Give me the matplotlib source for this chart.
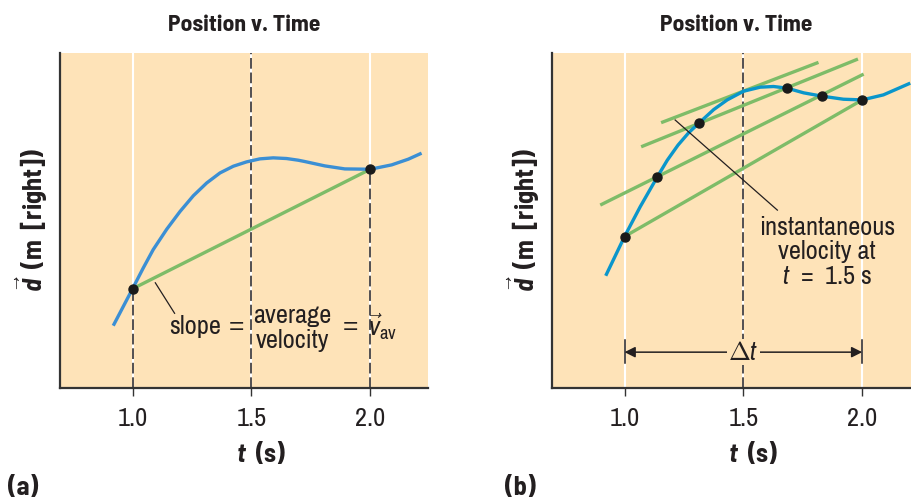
import numpy as np
import matplotlib
matplotlib.use('Agg')
import matplotlib.pyplot as plt

# ---------------------- fonts

plt.rcParams['font.family'] = ['Archivo Narrow', 'Liberation Sans', 'DejaVu Sans']
plt.rcParams['mathtext.fontset'] = 'custom'
plt.rcParams['mathtext.rm'] = 'Archivo Narrow'
plt.rcParams['mathtext.it'] = 'Archivo Narrow:italic'
plt.rcParams['mathtext.bf'] = 'Barlow Semi Condensed:italic:bold'
boldFamily = ['Barlow Semi Condensed', 'Liberation Sans', 'DejaVu Sans']
eqFamily = ['Liberation Sans', 'DejaVu Sans']

# ---------------------- data

ticks = [1.0, 1.5, 2.0]
tickLabels = ['1.0', '1.5', '2.0']

# panel (a): position curve
tA = [0.919, 1.0, 1.045, 1.087, 1.144, 1.200, 1.256, 1.312, 1.368, 1.424,
      1.480, 1.536, 1.592, 1.648, 1.697, 1.725, 1.809, 1.893, 2.0, 2.090,
      2.160, 2.216]
dA = [1.86, 2.96, 3.58, 4.13, 4.74, 5.27, 5.74, 6.12, 6.42, 6.62,
      6.75, 6.84, 6.87, 6.85, 6.80, 6.76, 6.63, 6.54, 6.53, 6.66,
      6.83, 7.01]
dotsTA = [1.0, 2.0]
dotsDA = [2.96, 6.53]

# panel (b): position curve
tB = [0.921, 1.0, 1.066, 1.137, 1.180, 1.225, 1.270, 1.315, 1.375, 1.432,
      1.501, 1.571, 1.627, 1.684, 1.754, 1.832, 1.921, 2.0, 2.089, 2.202]
dB = [3.35, 4.52, 5.41, 6.29, 6.80, 7.25, 7.62, 7.92, 8.31, 8.60,
      8.86, 8.98, 9.00, 8.95, 8.81, 8.71, 8.62, 8.60, 8.75, 9.10]
dotsTB = [1.0, 1.137, 1.315, 1.684, 1.832, 2.0]
dotsDB = [4.52, 6.29, 7.92, 8.95, 8.71, 8.60]

# panel (b): secant / tangent segments
greenT0 = [1.154, 1.070, 0.898, 1.0]
greenT1 = [1.816, 1.982, 2.006, 2.0]
greenD0 = [7.92, 7.20, 5.46, 4.52]
greenD1 = [9.72, 9.82, 9.37, 8.60]

# ---------------------- style

bgColor = '#FEE3B8'
blueA = '#3B8FD4'
blueB = '#0A96CB'
green = '#7EBC68'
ink = '#231F20'
fs = 19

fig = plt.figure(figsize=(9.11, 5.0), dpi=100)
axA = fig.add_axes([60/911, 112/500, 368/911, 335/500])
axB = fig.add_axes([552/911, 112/500, 368/911, 335/500])


def setupAxes(ax):
    ax.set_facecolor(bgColor)
    ax.set_xlim(0.695, 2.243)
    ax.set_ylim(0, 10)
    for s in ['top', 'right']:
        ax.spines[s].set_visible(False)
    for s in ['left', 'bottom']:
        ax.spines[s].set_color('#333333')
        ax.spines[s].set_linewidth(1.6)
    ax.set_yticks([])
    ax.set_xticks(ticks)
    ax.set_xticklabels(tickLabels, fontsize=fs, color=ink)
    ax.tick_params(axis='x', direction='out', length=6, width=1.0,
                   color='#333333', pad=8)
    ax.set_title('Position v. Time', fontsize=17, fontweight='bold',
                 family=boldFamily, color=ink, pad=16)
    ax.set_xlabel(r'$\mathbf{t}$  (s)', fontsize=fs, fontweight='bold',
                  family=boldFamily, color=ink)
    ax.xaxis.set_label_coords((1.5 + 0.04 - 0.695) / (2.243 - 0.695), -0.155)


setupAxes(axA)
setupAxes(axB)

dash = (0, (7, 2.5))

# ---------------------- panel (a)

for t in ticks:
    axA.axvline(t, color='white', linewidth=1.5, zorder=1)
axA.plot([1.0, 1.0], [0, dotsDA[0]], color=ink, linewidth=1.1, linestyle=dash, zorder=1.5)
axA.axvline(1.5, color=ink, linewidth=1.1, linestyle=dash, zorder=1.5)
axA.plot([2.0, 2.0], [0, dotsDA[1]], color=ink, linewidth=1.1, linestyle=dash, zorder=1.5)

axA.plot(dotsTA, dotsDA, color=green, linewidth=2.4, zorder=2, solid_capstyle='butt')
axA.plot(tA, dA, color=blueA, linewidth=2.4, zorder=3, solid_capstyle='butt',
         solid_joinstyle='round')
axA.plot(dotsTA, dotsDA, 'o', color='#1A1A1A', markersize=6.5, zorder=4)

axA.plot([1.096, 1.177], [3.14, 2.23], color=ink, linewidth=0.9, zorder=3)
axA.text(1.263, 1.83, 'slope', fontsize=fs, color=ink, ha='center', va='center')
axA.text(1.438, 1.83, '=', fontsize=fs, family=eqFamily, color=ink,
         ha='center', va='center')
axA.text(1.674, 1.78, 'average\nvelocity', fontsize=fs, color=ink, ha='center',
         va='center', linespacing=1.1)
axA.text(1.915, 1.83, '=', fontsize=fs, family=eqFamily, color=ink,
         ha='center', va='center')
axA.text(1.99, 1.83, r'$\vec{v}_{\rm av}$', fontsize=fs, color=ink, ha='left', va='center')

# ---------------------- panel (b)

axB.axvline(1.0, color='white', linewidth=1.5, zorder=1)
axB.axvline(2.0, color='white', linewidth=1.5, zorder=1)
axB.axvline(1.5, color='white', linewidth=1.5, zorder=1)
axB.axvline(1.5, color=ink, linewidth=1.1, linestyle=dash, zorder=1.5)

for t0, t1, d0, d1 in zip(greenT0, greenT1, greenD0, greenD1):
    axB.plot([t0, t1], [d0, d1], color=green, linewidth=2.4, zorder=2,
             solid_capstyle='butt')
axB.plot(tB, dB, color=blueB, linewidth=2.4, zorder=3, solid_capstyle='butt',
         solid_joinstyle='round')
axB.plot(dotsTB, dotsDB, 'o', color='#1A1A1A', markersize=6.5, zorder=4)

axB.plot([1.213, 1.643], [8.0, 5.31], color=ink, linewidth=0.9, zorder=3.5)
axB.text(1.851, 4.06, 'instantaneous\nvelocity at\n$t$  =  1.5 s', fontsize=fs,
         color=ink, ha='center', va='center', linespacing=1.1, zorder=5)

# delta t arrow
axB.plot([1.0, 1.0], [0.75, 1.43], color=ink, linewidth=1.1, zorder=3)
axB.plot([2.0, 2.0], [0.75, 1.43], color=ink, linewidth=1.1, zorder=3)
axB.annotate('', xy=(1.0, 1.07), xytext=(2.0, 1.07),
             arrowprops=dict(arrowstyle='<|-|>', color=ink, lw=1.1,
                             mutation_scale=16, shrinkA=0, shrinkB=0),
             zorder=3)
axB.text(1.5, 1.07, r'$\Delta t$', fontsize=fs, color=ink, ha='center', va='center',
         zorder=4, bbox=dict(facecolor=bgColor, edgecolor='none', pad=1))

# ---------------------- y labels and panel tags

for xPix in [32, 524]:
    fig.text(xPix/911, 1 - 220/500, r'$\vec{\mathbf{d}}$  (m  [right])', rotation=90,
             fontsize=fs, fontweight='bold', family=boldFamily, color=ink,
             ha='center', va='center')

fig.text(8/911, 1 - 488/500, '(a)', fontsize=fs, fontweight='bold', family=boldFamily,
         color=ink, ha='left', va='center')
fig.text(505/911, 1 - 488/500, '(b)', fontsize=fs, fontweight='bold', family=boldFamily,
         color=ink, ha='left', va='center')

fig.savefig('out.png', dpi=100)
